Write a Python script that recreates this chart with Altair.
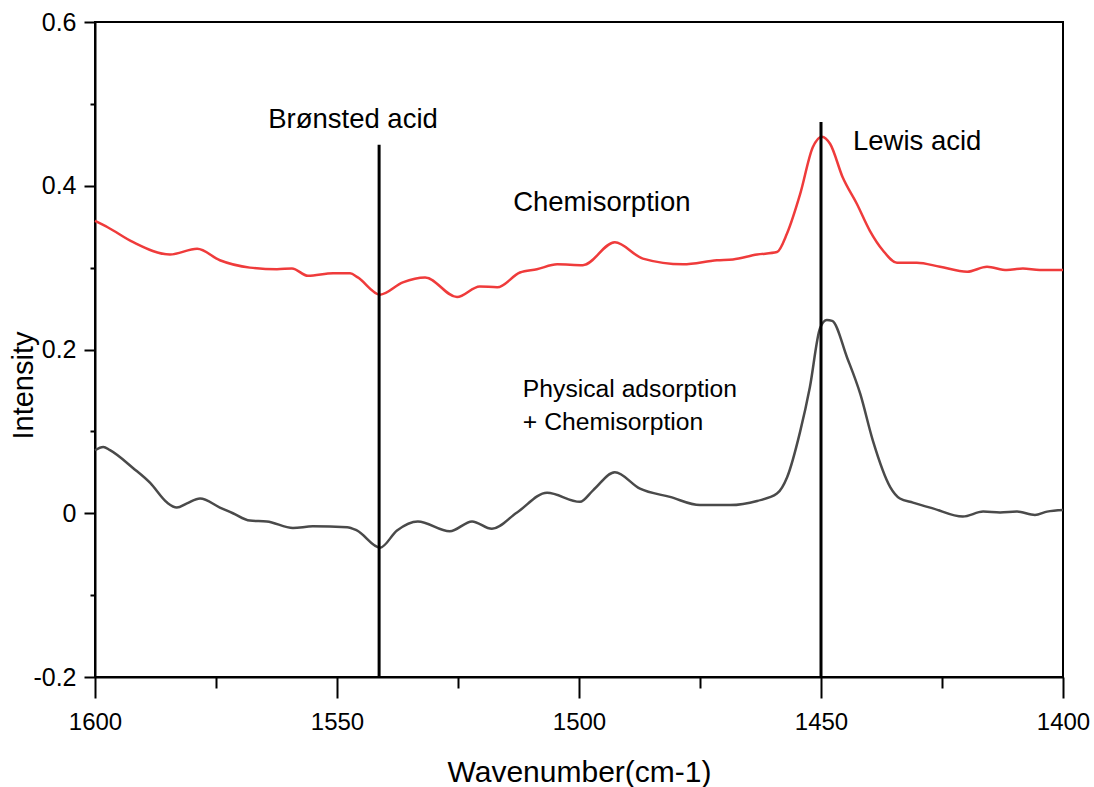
import altair as alt
import pandas as pd

# Chemisorption spectrum (red)
red_wn = [1600, 1597.3, 1592.1, 1584.5, 1578.9, 1574.2, 1568.0, 1562.4, 1559.3, 1556.0,
          1550.8, 1547.3, 1545.7, 1541.1, 1536.4, 1531.8, 1525.2, 1520.5, 1516.9, 1512.2,
          1508.7, 1504.5, 1499.2, 1492.6, 1486.8, 1478.5, 1471.5, 1468.2, 1463.2, 1459.1,
          1457.0, 1454.3, 1451.7, 1449.8, 1448.1, 1445.5, 1442.6, 1439.9, 1437.2, 1434.3,
          1430.2, 1425.4, 1419.8, 1415.7, 1411.6, 1408.3, 1404.8, 1400]
red_int = [0.357, 0.349, 0.331, 0.316, 0.323, 0.309, 0.300, 0.298, 0.299, 0.290,
           0.293, 0.293, 0.288, 0.267, 0.282, 0.288, 0.264, 0.277, 0.276, 0.294,
           0.298, 0.304, 0.303, 0.331, 0.311, 0.304, 0.309, 0.310, 0.316, 0.319,
           0.342, 0.390, 0.447, 0.460, 0.451, 0.410, 0.378, 0.345, 0.321, 0.306,
           0.306, 0.301, 0.295, 0.301, 0.297, 0.299, 0.297, 0.297]

# Physical adsorption + Chemisorption spectrum (dark gray)
gray_wn = [1600, 1598.3, 1596.9, 1592.1, 1588.6, 1585.1, 1583.1, 1581.0, 1578.3, 1574.2,
           1571.5, 1568.0, 1564.5, 1559.1, 1555.0, 1547.9, 1545.9, 1541.1, 1537.6, 1533.3,
           1526.7, 1522.1, 1518.0, 1512.8, 1506.6, 1499.8, 1497.1, 1492.6, 1487.4, 1481.2,
           1475.0, 1468.8, 1463.2, 1459.1, 1457.0, 1454.3, 1452.3, 1450.2, 1448.8, 1447.7,
           1444.6, 1441.9, 1439.3, 1435.7, 1433.7, 1431.0, 1426.9, 1420.7, 1416.5, 1413.0,
           1409.5, 1405.8, 1403.3, 1400]
gray_int = [0.077, 0.081, 0.077, 0.055, 0.037, 0.013, 0.007, 0.012, 0.018, 0.007,
            0.000, -0.009, -0.010, -0.018, -0.016, -0.017, -0.021, -0.042, -0.021, -0.010,
            -0.022, -0.010, -0.019, 0.001, 0.025, 0.014, 0.028, 0.050, 0.030, 0.020,
            0.010, 0.010, 0.015, 0.024, 0.044, 0.100, 0.154, 0.226, 0.236, 0.235,
            0.190, 0.146, 0.089, 0.032, 0.018, 0.013, 0.006, -0.004, 0.002, 0.001,
            0.002, -0.002, 0.002, 0.004]

# Marker lines
rule_wn = [1541.3, 1450.0]
rule_top = [0.450, 0.478]
rule_bottom = [-0.2, -0.2]

# Annotations
ann_text = ["Brønsted acid", "Chemisorption", "Lewis acid", "Physical adsorption", "+ Chemisorption"]
ann_wn = [1546.7, 1513.6, 1443.4, 1511.6, 1511.6]
ann_int = [0.470, 0.369, 0.444, 0.1416, 0.1013]
ann_align = ["center", "left", "left", "left", "left"]
ann_size = [27.5, 27.5, 27.5, 24.7, 24.7]

x_major = [1600, 1550, 1500, 1450, 1400]
x_minor = [1575, 1525, 1475, 1425]
y_major = [-0.2, 0.0, 0.2, 0.4, 0.6]
y_minor = [-0.1, 0.1, 0.3, 0.5]

series_names = ["Chemisorption", "Physical adsorption + Chemisorption"]
series_colors = ["#ef3b3b", "#4a4a4a"]

lines_df = pd.concat([
    pd.DataFrame({"wn": red_wn, "val": red_int, "series": series_names[0]}),
    pd.DataFrame({"wn": gray_wn, "val": gray_int, "series": series_names[1]}),
])
rules_df = pd.DataFrame({"wn": rule_wn, "top": rule_top, "bottom": rule_bottom})
ann_df = pd.DataFrame({"text": ann_text, "wn": ann_wn, "val": ann_int,
                       "align": ann_align, "size": ann_size})

FONT = "Liberation Sans"
xs = alt.Scale(domain=[1400, 1600], reverse=True, nice=False, zero=False)
ys = alt.Scale(domain=[-0.2, 0.6], nice=False, zero=False)

y_label_expr = ("datum.value == 0 ? '0' : (datum.value < 0 ? '-' + format(-datum.value, '.1f') "
                ": format(datum.value, '.1f'))")

lines = alt.Chart(lines_df).mark_line(strokeWidth=2.5, interpolate="monotone").encode(
    x=alt.X("wn:Q", scale=xs,
            axis=alt.Axis(values=x_major, format="d", tickSize=21, tickWidth=2,
                          tickColor="black", domainColor="black", domainWidth=2,
                          labelFontSize=24, labelFont=FONT, labelColor="black",
                          labelPadding=12, grid=False, title="Wavenumber(cm-1)",
                          titleFont=FONT, titleFontSize=30, titleFontWeight="normal",
                          titleColor="black", titleBaseline="alphabetic", titleY=104,
                          orient="bottom", labelFlush=False)),
    y=alt.Y("val:Q", scale=ys,
            axis=alt.Axis(values=y_major, tickSize=11, tickWidth=2, tickColor="black",
                          domainColor="black", domainWidth=2, labelFontSize=25,
                          labelFont=FONT, labelColor="black", labelPadding=8,
                          labelExpr=y_label_expr,
                          grid=False, title="Intensity", titleFont=FONT, titleFontSize=29,
                          titleFontWeight="normal", titleColor="black", titleX=-57,
                          titleY=363, titleAlign="center", titleBaseline="bottom",
                          orient="left", labelFlush=False)),
    color=alt.Color("series:N", scale=alt.Scale(domain=series_names, range=series_colors),
                    legend=None),
    detail="series:N",
)

minor = alt.Chart(rules_df).mark_rule(strokeWidth=3, color="black").encode(
    x=alt.X("wn:Q", scale=xs,
            axis=alt.Axis(values=x_minor, tickSize=11, tickWidth=2, tickColor="black",
                          labels=False, domain=False, grid=False, title=None,
                          orient="bottom")),
    y=alt.Y("bottom:Q", scale=ys,
            axis=alt.Axis(values=y_minor, tickSize=5, tickWidth=2, tickColor="black",
                          labels=False, domain=False, grid=False, title=None,
                          orient="left")),
    y2="top:Q",
)

def text_layer(align):
    return alt.Chart(ann_df).transform_filter(
        alt.datum.align == align
    ).mark_text(font=FONT, color="black", baseline="alphabetic", align=align).encode(
        x=alt.X("wn:Q", scale=xs, axis=None),
        y=alt.Y("val:Q", scale=ys, axis=None),
        text="text:N",
        size=alt.Size("size:Q", scale=None, legend=None),
    )

chart = alt.layer(lines, minor, text_layer("center"), text_layer("left")).resolve_axis(
    x="independent", y="independent"
).properties(
    width=968, height=655,
    autosize=alt.AutoSizeParams(type="none"),
    padding={"left": 95, "top": 22, "right": 31, "bottom": 110},
).configure_view(stroke="black", strokeWidth=2)

chart.save("out.html", embed_options={"renderer": "svg", "actions": False})
